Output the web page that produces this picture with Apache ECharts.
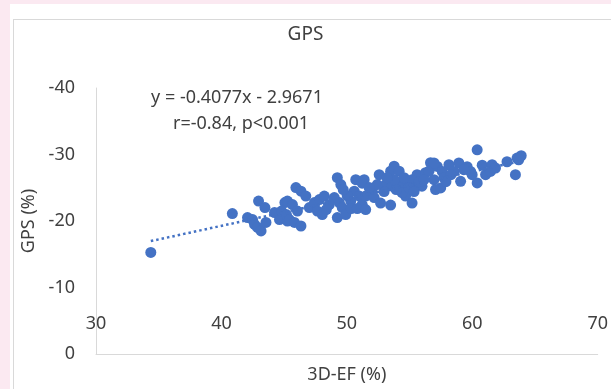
<!DOCTYPE html>
<html>
<head>
<meta charset="utf-8">
<script src="https://cdn.jsdelivr.net/npm/echarts@6/dist/echarts.min.js"></script>
<style>
  html, body { margin: 0; padding: 0; }
  body { width: 611px; height: 389px; background: #fbe9f1; position: relative; overflow: hidden; }
  #panel { position: absolute; left: 10px; top: 4px; right: 0; bottom: 0; background: #ffffff; }
  #frame { position: absolute; left: 13px; top: 19px; width: 620px; height: 400px; border: 1px solid #d9d9d9; }
  #chart { position: absolute; left: 0; top: 0; width: 611px; height: 389px; }
</style>
</head>
<body>
<div id="panel"></div>
<div id="frame"></div>
<div id="chart"></div>
<script>
// 3D-EF (%) on x, GPS (%) on y
const efValues = [
  34.37, 40.87, 42.08, 42.48, 42.64, 42.88, 43.16, 43.55, 42.96, 43.47,
  44.23, 44.63, 45.06, 45.26, 44.79, 45.94, 46.34, 46.73, 45.26, 45.66,
  46.06, 45.18, 45.42, 45.82, 46.34, 47.01, 47.41, 47.81, 48.20, 47.65,
  48.04, 49.24, 49.52, 49.00, 49.40, 49.63, 49.24, 49.91, 50.31, 50.71,
  50.59, 50.99, 51.22, 48.60, 50.03, 50.35, 50.83, 48.36, 49.71, 53.77,
  53.49, 54.17, 52.58, 51.38, 51.22, 53.09, 52.02, 51.50, 52.18, 53.61,
  54.28, 54.80, 55.60, 56.67, 56.27, 56.95, 54.68, 55.20, 52.69, 53.49,
  51.50, 55.48, 57.07, 55.20, 54.40, 55.99, 56.55, 53.93, 54.96, 55.76,
  54.56, 52.97, 52.42, 56.15, 55.36, 53.77, 51.78, 53.21, 60.39, 58.14,
  58.93, 59.59, 60.79, 61.58, 62.77, 63.57, 63.90, 63.44, 61.06, 60.39,
  59.07, 59.86, 57.21, 57.48, 58.54, 61.45, 61.85, 57.61, 59.99, 56.95,
  63.70, 57.74, 58.30, 59.33, 57.90
];
const gpsValues = [
  -15.28, -21.12, -20.52, -20.22, -19.48, -19.03, -18.50, -19.78, -23.00, -22.02,
  -21.27, -20.22, -22.77, -20.00, -21.50, -25.02, -24.49, -23.75, -23.00, -22.47,
  -21.50, -20.97, -20.22, -19.78, -19.25, -22.02, -22.77, -23.22, -23.75, -21.50,
  -20.97, -26.52, -25.47, -23.52, -22.77, -22.02, -20.52, -20.97, -23.00, -26.22,
  -24.49, -23.75, -22.47, -22.47, -23.82, -21.87, -21.87, -21.72, -24.72, -28.24,
  -27.49, -27.49, -26.97, -26.22, -25.69, -25.47, -24.49, -23.75, -23.52, -25.24,
  -25.47, -25.99, -26.97, -28.76, -27.27, -26.22, -23.75, -22.70, -22.70, -22.40,
  -21.72, -25.24, -24.72, -26.22, -24.27, -25.24, -27.49, -24.72, -25.02, -25.92,
  -26.52, -24.42, -25.47, -26.22, -24.42, -26.22, -25.02, -26.52, -30.71, -28.46,
  -28.72, -28.16, -28.39, -28.46, -28.91, -29.47, -29.81, -26.97, -26.97, -25.72,
  -25.96, -27.46, -28.21, -24.97, -27.46, -27.46, -27.97, -27.46, -26.97, -28.72,
  -29.21, -26.52, -26.97, -27.72, -25.92
];
const xTicks = [30, 40, 50, 60, 70];
const yTicks = [-40, -30, -20, -10, 0];
// linear trendline as printed on the chart
const slope = -0.4077;
const intercept = -2.9671;
const eqLines = ['y = -0.4077x - 2.9671', 'r=-0.84, p<0.001'];

const points = efValues.map((x, i) => [x, gpsValues[i]]);
const xMin = Math.min(...efValues);
const xMax = Math.max(...efValues);
const trend = [[xMin, slope * xMin + intercept], [xMax, slope * xMax + intercept]];

const font = 'Noto Sans';
const textColor = '#404040';
const axisColor = '#d9d9d9';
const blue = '#4472c4';

const chart = echarts.init(document.getElementById('chart'));
chart.setOption({
  animation: false,
  backgroundColor: 'transparent',
  textStyle: { fontFamily: font },
  title: {
    text: 'GPS',
    left: 'center',
    top: 20,
    textStyle: { fontFamily: font, fontSize: 19, fontWeight: 'normal', color: textColor }
  },
  grid: { left: 96, right: 11, top: 88, bottom: 34 },
  xAxis: {
    type: 'value',
    min: xTicks[0],
    max: xTicks[xTicks.length - 1],
    interval: xTicks[1] - xTicks[0],
    name: '3D-EF (%)',
    nameLocation: 'middle',
    nameGap: 12,
    nameTextStyle: { fontFamily: font, fontSize: 18, color: textColor },
    axisLine: { show: true, lineStyle: { color: axisColor, width: 1 } },
    axisTick: { show: false },
    splitLine: { show: false },
    axisLabel: { margin: -39, fontFamily: font, fontSize: 18, color: textColor }
  },
  yAxis: {
    type: 'value',
    min: yTicks[0],
    max: yTicks[yTicks.length - 1],
    interval: yTicks[1] - yTicks[0],
    inverse: true,
    name: 'GPS (%)',
    nameLocation: 'middle',
    nameGap: 56,
    nameTextStyle: { fontFamily: font, fontSize: 18, color: textColor },
    axisLine: { show: true, lineStyle: { color: axisColor, width: 1 } },
    axisTick: { show: false },
    splitLine: { show: false },
    axisLabel: { margin: 21, fontFamily: font, fontSize: 18, color: textColor }
  },
  graphic: eqLines.map((line, i) => ({
    type: 'text',
    style: {
      x: i === 0 ? 237 : 241,
      y: 98 + i * 26,
      text: line,
      font: '18px "Noto Sans"',
      fill: textColor,
      align: 'center',
      verticalAlign: 'middle'
    }
  })),
  series: [
    {
      type: 'scatter',
      data: points,
      symbolSize: 11,
      itemStyle: { color: blue, opacity: 1 },
      z: 2
    },
    {
      type: 'line',
      data: trend,
      symbol: 'none',
      silent: true,
      lineStyle: { color: blue, width: 2.5, type: [2.5, 3] },
      z: 3
    }
  ]
});
</script>
</body>
</html>
